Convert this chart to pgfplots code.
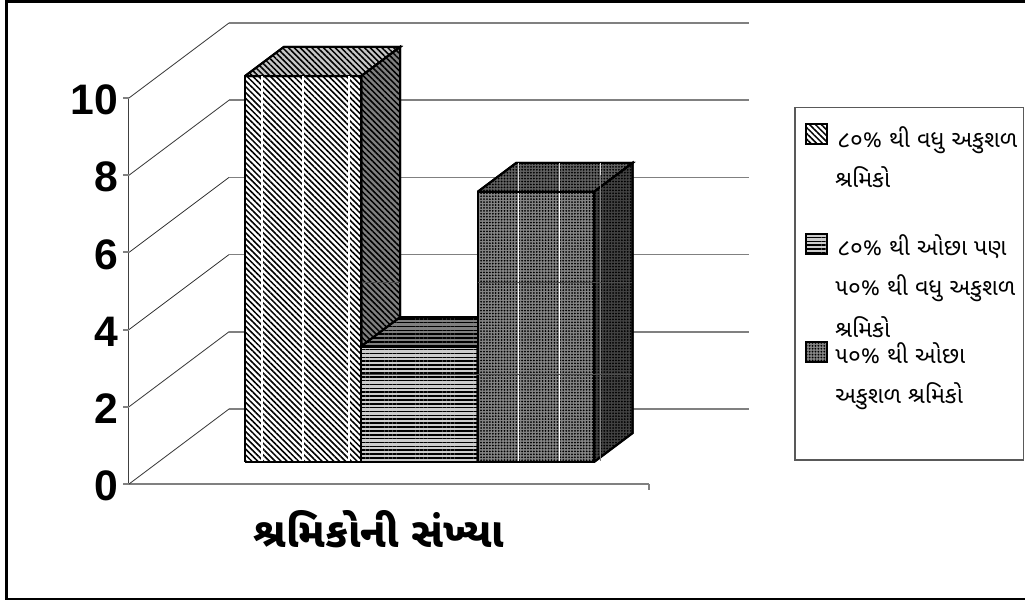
\documentclass[border=0pt]{standalone}
\usepackage{fontspec}
\setmainfont{Liberation Sans}
\newfontfamily\guj[Script=Gujarati]{Noto Sans Gujarati UI}
\usepackage{pgfplots}
\pgfplotsset{compat=1.18}
\usetikzlibrary{patterns.meta}
\definecolor{gridg}{gray}{0.5}
\tikzset{
 edge/.style={draw=black,line width=1.5pt,line join=miter},
 stripe/.style={pattern={Lines[angle=-45,distance=3.1pt,line width=1.15pt]},pattern color=black},
 hstripe/.style={pattern={Lines[angle=0,distance=2.9pt,line width=1.2pt]},pattern color=black},
 dots/.style={pattern={Dots[distance=2.2pt,radius=.75pt]},pattern color=black},
}
\begin{document}
\begin{tikzpicture}
\begin{axis}[
  x={(0.75pt,0pt)}, y={(75pt,56.25pt)}, z={(0pt,28.95pt)},
  xmin=0,xmax=520,ymin=0,ymax=1,zmin=0,zmax=10,
  clip=false,
  axis lines=left,
  axis line style={-,line width=.75pt,draw=black!75},
  x axis line style={draw=gridg,line width=1.3pt},
  y axis line style={draw=none},
  xtick=\empty,
  ytick=\empty,
  ztick={0,2,4,6,8,10},
  major tick length=0pt,
  /pgf/number format/assume math mode=true,
  z tick label style={font=\fontsize{32}{32}\selectfont\bfseries,anchor=east,xshift=-8pt,yshift=-1.5pt,inner sep=0pt},
]
% walls: one grid level per tick
\addplot3[draw=black!80,line width=.6pt] coordinates {(0,0,0)(0,1,0)};
\addplot3[draw=black!80,line width=.6pt] coordinates {(0,0,2)(0,1,2)};
\addplot3[draw=black!80,line width=.6pt] coordinates {(0,0,4)(0,1,4)};
\addplot3[draw=black!80,line width=.6pt] coordinates {(0,0,6)(0,1,6)};
\addplot3[draw=black!80,line width=.6pt] coordinates {(0,0,8)(0,1,8)};
\addplot3[draw=black!80,line width=.6pt] coordinates {(0,0,10)(0,1,10)};
\addplot3[draw=gridg,line width=1.3pt] coordinates {(0,1,0)(520,1,0)};
\addplot3[draw=gridg,line width=1.3pt] coordinates {(0,1,2)(520,1,2)};
\addplot3[draw=gridg,line width=1.3pt] coordinates {(0,1,4)(520,1,4)};
\addplot3[draw=gridg,line width=1.3pt] coordinates {(0,1,6)(520,1,6)};
\addplot3[draw=gridg,line width=1.3pt] coordinates {(0,1,8)(520,1,8)};
\addplot3[draw=gridg,line width=1.3pt] coordinates {(0,1,10)(520,1,10)};
% bar 1, value 10
\addplot3[edge,preaction={fill=white},stripe] coordinates {(86.7,0.293,0)(203,0.293,0)(203,0.293,10)(86.7,0.293,10)(86.7,0.293,0)};
\addplot3[edge,preaction={fill=black!22},stripe] coordinates {(86.7,0.293,10)(203,0.293,10)(203,0.68,10)(86.7,0.68,10)(86.7,0.293,10)};
\addplot3[edge,preaction={fill=black!50},stripe] coordinates {(203,0.293,0)(203,0.68,0)(203,0.68,10)(203,0.293,10)(203,0.293,0)};
% bar 2, value 3
\addplot3[edge,preaction={fill=black!20},hstripe] coordinates {(203,0.293,0)(319.3,0.293,0)(319.3,0.293,3)(203,0.293,3)(203,0.293,0)};
\addplot3[edge,preaction={fill=black!50},hstripe] coordinates {(203,0.293,3)(319.3,0.293,3)(319.3,0.68,3)(203,0.68,3)(203,0.293,3)};
\addplot3[edge,preaction={fill=black!70},hstripe] coordinates {(319.3,0.293,0)(319.3,0.68,0)(319.3,0.68,3)(319.3,0.293,3)(319.3,0.293,0)};
% bar 3, value 7
\addplot3[edge,preaction={fill=black!48},dots] coordinates {(319.3,0.293,0)(435.7,0.293,0)(435.7,0.293,7)(319.3,0.293,7)(319.3,0.293,0)};
\addplot3[edge,preaction={fill=black!62},dots] coordinates {(319.3,0.293,7)(435.7,0.293,7)(435.7,0.68,7)(319.3,0.68,7)(319.3,0.293,7)};
\addplot3[edge,preaction={fill=black!74},dots] coordinates {(435.7,0.293,0)(435.7,0.68,0)(435.7,0.68,7)(435.7,0.293,7)(435.7,0.293,0)};
\coordinate (O) at (axis cs:0,0,0);
\end{axis}
\begin{scope}[shift={(O)},x=.75pt,y=-.75pt,shift={(-129,-484)}]
% axis ticks
\foreach \yy in {98,175,252,330,407,484} \draw[gridg,line width=1pt] (123,\yy)--(129,\yy);
\draw[gridg,line width=1pt] (649,484)--(649,490);
% seams in the bar fills
\foreach \xx in {262,303,349} \draw[white,line width=.8pt] (\xx,76)--(\xx,461);
\foreach \xx in {518,559} \draw[white,line width=.7pt] (\xx,193)--(\xx,461);
\foreach \xx in {518,559,600} \draw[black!15,line width=.6pt] (\xx,163)--(\xx,\ifnum\xx=600 175\else 191\fi);
\draw[black!50,line width=.6pt] (600,175)--(600,461);
\draw[black!70,line width=.5pt] (362,282)--(400,282) (478,282)--(632,282);
\draw[black!70,line width=.5pt] (362,374)--(632,374);
\draw[black,line width=2pt] (361,347)--(477,347);
% frame
\draw[black,line width=2pt] (1032,1.5)--(6.5,1.5)--(6.5,599)--(1032,599);
% legend
\draw[draw=black!65,fill=white,line width=1pt] (795,107.5) rectangle (1023.5,460);
\draw[edge,preaction={fill=white},stripe] (806,124) rectangle (827,144);
\draw[edge,preaction={fill=black!20},hstripe] (806,234) rectangle (827,254);
\draw[edge,preaction={fill=black!48},dots] (806,342) rectangle (827,362);
\tikzset{lt/.style={anchor=base west,inner sep=0pt,font=\guj\fontsize{17.5}{17.5}\selectfont}}
\node[lt] at (837,147) {૮૦\% થી વધુ અકુશળ};
\node[lt] at (835,187) {શ્રમિકો};
\node[lt] at (837,255) {૮૦\% થી ઓછા પણ};
\node[lt] at (835,295) {૫૦\% થી વધુ અકુશળ};
\node[lt] at (835,337) {શ્રમિકો};
\node[lt] at (835,363) {૫૦\% થી ઓછા};
\node[lt] at (835,403) {અકુશળ શ્રમિકો};
% category label
\node[anchor=base,inner sep=0pt,font=\guj\fontsize{31}{31}\selectfont\bfseries] at (379,547) {શ્રમિકોની સંખ્યા};
\pgfresetboundingbox
\path[use as bounding box] (0,0) rectangle (1025,601);
\end{scope}
\end{tikzpicture}
\end{document}
